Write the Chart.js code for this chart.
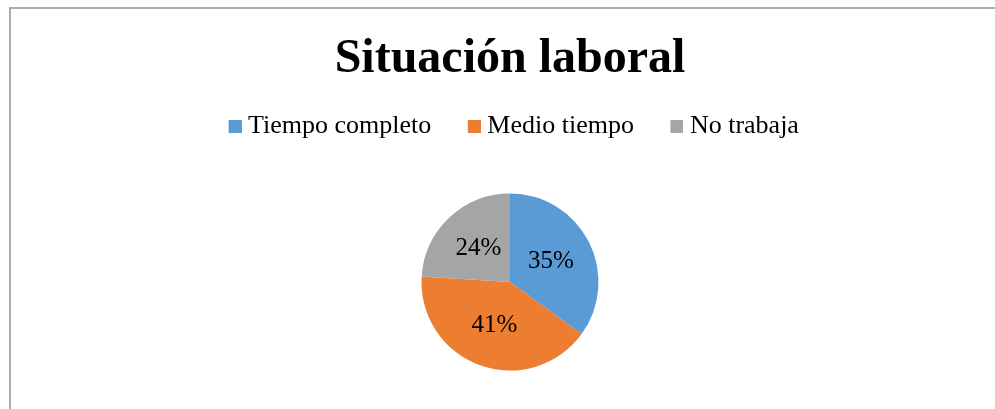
<!DOCTYPE html>
<html><head><meta charset="utf-8">
<script src="https://cdn.jsdelivr.net/npm/chart.js@4.4.1/dist/chart.umd.min.js"></script>
<style>
html,body{margin:0;padding:0;background:#fff;overflow:hidden;}
#wrap{position:relative;width:995px;height:409px;overflow:hidden;}
#frame{position:absolute;left:9px;top:7px;width:1010px;height:430px;border:2px solid #ababab;box-sizing:border-box;}
canvas{position:absolute;left:0;top:0;}
</style></head><body>
<div id="wrap"><div id="frame"></div><canvas id="c" width="995" height="420"></canvas></div>
<script>
const titleText = 'Situación laboral';
const categories = ['Tiempo completo', 'Medio tiempo', 'No trabaja'];
const values = [35, 41, 24];
const colors = ['#5B9BD5', '#ED7D31', '#A5A5A5'];

const SERIF = '"Liberation Serif", "Times New Roman", serif';

function swatch(color) {
  const c = document.createElement('canvas');
  c.width = 27; c.height = 13;
  const x = c.getContext('2d');
  x.fillStyle = color;
  x.fillRect(14, 0, 13, 13);
  return c;
}
const swatches = colors.map(swatch);

const pctPlugin = {
  id: 'pctLabels',
  afterDatasetsDraw(chart) {
    const ctx = chart.ctx;
    const meta = chart.getDatasetMeta(0);
    const total = values.reduce((a, b) => a + b, 0);
    ctx.save();
    ctx.font = '25px ' + SERIF;
    ctx.fillStyle = '#000';
    ctx.textAlign = 'center';
    ctx.textBaseline = 'middle';
    meta.data.forEach((arc, i) => {
      const p = arc.getProps(['x', 'y', 'startAngle', 'endAngle', 'outerRadius'], true);
      const a = (p.startAngle + p.endAngle) / 2;
      const r = p.outerRadius * 0.52;
      ctx.fillText(Math.round(values[i] / total * 100) + '%', p.x + Math.cos(a) * r, p.y + Math.sin(a) * r);
    });
    ctx.restore();
  }
};

new Chart(document.getElementById('c'), {
  type: 'pie',
  data: {
    labels: categories,
    datasets: [{
      data: values,
      backgroundColor: colors,
      borderWidth: 0,
      radius: 88.5
    }]
  },
  options: {
    responsive: false,
    animation: false,
    layout: { padding: { left: 25, right: 0, top: 0, bottom: 5.5 } },
    plugins: {
      tooltip: { enabled: false },
      title: {
        display: true,
        text: titleText,
        color: '#000',
        font: { family: SERIF, size: 48, weight: 'bold' },
        padding: { top: 31, bottom: -4 }
      },
      legend: {
        display: true,
        position: 'top',
        labels: {
          color: '#000',
          font: { family: SERIF, size: 26 },
          usePointStyle: true,
          boxWidth: 14,
          padding: 29,
          generateLabels(chart) {
            const items = Chart.overrides.doughnut.plugins.legend.labels.generateLabels(chart);
            items.forEach((it, i) => { it.pointStyle = swatches[i]; });
            return items;
          }
        }
      }
    }
  },
  plugins: [pctPlugin]
});
</script>
</body></html>
